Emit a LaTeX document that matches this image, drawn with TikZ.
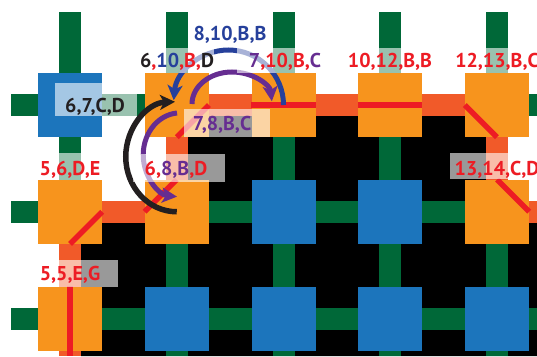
\documentclass[tikz,border=0pt]{standalone}
\usepackage{fontspec}
\setmainfont{PT Sans}
\usetikzlibrary{arrows.meta}
\definecolor{sqblue}{RGB}{28,117,188}
\definecolor{sqorange}{RGB}{247,148,29}
\definecolor{pathorange}{RGB}{241,90,41}
\definecolor{barg}{RGB}{0,104,56}
\definecolor{rred}{RGB}{237,28,36}
\definecolor{arcblue}{RGB}{38,64,155}
\definecolor{arcpurple}{RGB}{102,45,145}
\definecolor{arcblack}{RGB}{35,31,32}
\tikzset{
  sq/.style={minimum size=64pt, inner sep=0pt, draw=none},
  bsq/.style={sq, fill=sqblue},
  osq/.style={sq, fill=sqorange},
  gbar/.style={barg, line width=22pt},
  opath/.style={pathorange, line width=22pt, line join=miter},
  route/.style={rred, line width=5.5pt},
  lbox/.style={fill=white, fill opacity=0.6, draw=none},
  lbl/.style={font=\fontsize{20}{24}\selectfont\bfseries, inner sep=0pt, anchor=base},
  arcline/.style={line width=5pt, -{Stealth[length=15pt,width=15pt,inset=4pt]}},
}
\begin{document}
\begin{tikzpicture}[x=1pt,y=-1pt]
\useasboundingbox (0,0) rectangle (537,356);
\clip (0,0) rectangle (537,356);
% grid coordinates
\foreach \i/\x in {0/70,1/176.75,2/283.5,3/390.25,4/497} {
  \coordinate (top-\i) at (\x,12);
  \coordinate (bot-\i) at (\x,356);
  \foreach \j/\y in {0/105,1/211.75,2/318.5} {
    \coordinate (c-\i-\j) at (\x,\y);
  }
}
\foreach \j/\y in {0/105,1/211.75,2/318.5} {
  \coordinate (left-\j) at (11,\y);
  \coordinate (right-\j) at (537,\y);
}
% black interior region
\fill[black] (81,356) -- (81,222.75) -- (187.75,222.75) -- (187.75,116)
  -- (486,116) -- (486,222.75) -- (537,222.75) -- (537,356) -- cycle;
% green links
\foreach \i in {0,...,4} \draw[gbar] (top-\i) -- (bot-\i);
\foreach \j in {0,1,2} \draw[gbar] (left-\j) -- (right-\j);
% orange route
\draw[opath] (bot-0) -- (c-0-1) -- (c-1-1) -- (c-1-0) -- (c-4-0) -- (c-4-1) -- (right-1);
% squares
\node[bsq] (n-0-0) at (c-0-0) {};
\node[osq] (n-1-0) at (c-1-0) {};
\node[osq] (n-2-0) at (c-2-0) {};
\node[osq] (n-3-0) at (c-3-0) {};
\node[osq] (n-4-0) at (c-4-0) {};
\node[osq] (n-0-1) at (c-0-1) {};
\node[osq] (n-1-1) at (c-1-1) {};
\node[bsq] (n-2-1) at (c-2-1) {};
\node[bsq] (n-3-1) at (c-3-1) {};
\node[osq] (n-4-1) at (c-4-1) {};
\node[osq] (n-0-2) at (c-0-2) {};
\node[bsq] (n-1-2) at (c-1-2) {};
\node[bsq] (n-2-2) at (c-2-2) {};
\node[bsq] (n-3-2) at (c-3-2) {};
\node[bsq] (n-4-2) at (c-4-2) {};
% red routing lines
\draw[route] (n-0-2.north) -- (bot-0);
\draw[route] (n-0-1.east) -- (n-0-1.south);
\draw[route] (n-1-1.west) -- (n-1-1.north);
\draw[route] (n-1-0.south) -- (n-1-0.east);
\draw[route] (n-2-0.west) -- (n-2-0.east);
\draw[route] (n-3-0.west) -- (n-3-0.east);
\draw[route] (n-4-0.west) -- (n-4-0.south);
\draw[route] (n-4-1.north) -- (n-4-1.east);
% arcs
\coordinate (p1) at (192,104);
\coordinate (p2) at (177,113);
\draw[arcline, arcblue] (c-2-0) arc[start angle=0, end angle=-175, radius=55];
\draw[arcline, arcpurple] (p1) arc[start angle=180, end angle=355, x radius=40, y radius=32];
\draw[arcline, arcblack, line width=5.5pt] (c-1-1) arc[start angle=90, end angle=268, x radius=51, y radius=55];
\draw[arcline, arcpurple] (p2) arc[start angle=265, end angle=95, x radius=37, y radius=42];
% label backgrounds
\fill[lbox] (55,83) rectangle (137,116);
\fill[lbox] (135,48) rectangle (214,73);
\fill[lbox] (237,48) rectangle (330,73);
\fill[lbox] (340,48) rectangle (440,73);
\fill[lbox] (448,48) rectangle (537,73);
\fill[lbox] (184,109) rectangle (270,137);
\fill[lbox] (133,154) rectangle (225,182);
\fill[lbox] (30,153) rectangle (110,180);
\fill[lbox] (450,153) rectangle (537,179);
\fill[lbox] (22,260) rectangle (118,287);
% labels
\node[lbl] (t1) at (95,112) {\textcolor{arcblack}{6,7,C,D}};
\node[lbl] (t2) at (230,40) {\textcolor{arcblue}{8,10,B,B}};
\node[lbl] (t3) at (177,67) {\textcolor{arcblack}{6}\textcolor{rred}{,}\textcolor{arcblue}{10}\textcolor{rred}{,B,}\textcolor{arcblack}{D}};
\node[lbl] (t4) at (285,67) {\textcolor{arcpurple}{7}\textcolor{rred}{,10,B,}\textcolor{arcpurple}{C}};
\node[lbl] (t5) at (390,67) {\textcolor{rred}{10,12,B,B}};
\node[lbl] (t6) at (497,67) {\textcolor{rred}{12,13,B,C}};
\node[lbl] (t7) at (222,130) {\textcolor{arcpurple}{7,8,B,C}};
\node[lbl] (t8) at (176,175) {\textcolor{rred}{6,}\textcolor{arcpurple}{8,B}\textcolor{rred}{,D}};
\node[lbl] (t9) at (70,175) {\textcolor{rred}{5,6,D,E}};
\node[lbl] (t10) at (497,175) {\textcolor{rred}{13,14,C,D}};
\node[lbl] (t11) at (70,280) {\textcolor{rred}{5,5,E,G}};
\end{tikzpicture}
\end{document}
